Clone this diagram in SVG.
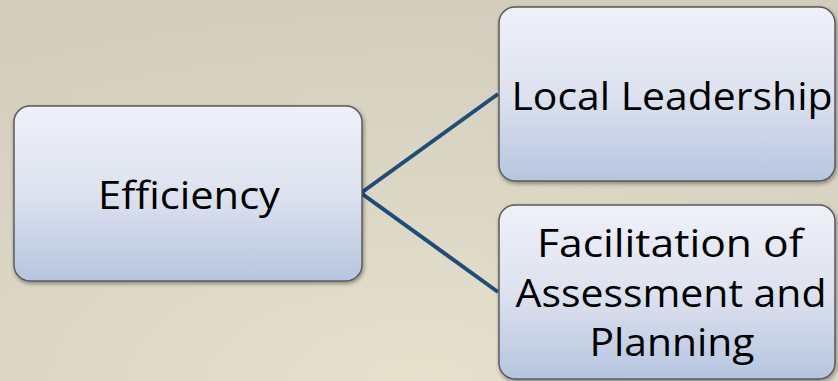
<svg xmlns="http://www.w3.org/2000/svg" width="838" height="381" viewBox="0 0 838 381">
<defs>
<radialGradient id="bg" cx="0.5" cy="1" r="1">
<stop offset="0" stop-color="#e6e1cd"/>
<stop offset="1" stop-color="#d2cdbd"/>
</radialGradient>
<linearGradient id="box" x1="0" y1="0" x2="0" y2="1">
<stop offset="0" stop-color="#eff1f9"/>
<stop offset="0.5" stop-color="#dde2ef"/>
<stop offset="1" stop-color="#b6c5e0"/>
</linearGradient>
<filter id="sh" x="-10%" y="-10%" width="120%" height="130%">
<feGaussianBlur in="SourceAlpha" stdDeviation="2"/>
<feOffset dx="1" dy="2" result="b"/>
<feComponentTransfer><feFuncA type="linear" slope="0.4"/></feComponentTransfer>
<feMerge><feMergeNode/><feMergeNode in="SourceGraphic"/></feMerge>
</filter>
</defs>
<style>
.node rect{fill:url(#box);stroke:#5a5a5a;stroke-width:1.5;filter:url(#sh)}
.node text{font-family:"Open Sans","Noto Sans","Liberation Sans",sans-serif;font-size:39px;fill:#000;text-anchor:middle}
.conn{stroke:#1f4d78;stroke-width:4;fill:none;stroke-linejoin:miter}
</style>
<rect width="838" height="381" fill="url(#bg)"/>
<g id="connectors">
<polyline class="conn" points="498,94 361,193 498,292"/>
</g>
<g id="efficiency" class="node">
<rect x="14" y="106" width="348" height="175" rx="16"/>
<text x="189" y="209" textLength="182" lengthAdjust="spacingAndGlyphs">Efficiency</text>
</g>
<g id="local-leadership" class="node">
<rect x="499" y="7" width="336" height="174" rx="16"/>
<text x="672" y="110" textLength="321" lengthAdjust="spacingAndGlyphs">Local Leadership</text>
</g>
<g id="facilitation" class="node">
<rect x="499" y="205" width="336" height="174" rx="16"/>
<text x="670" y="257" textLength="266" lengthAdjust="spacingAndGlyphs">Facilitation of</text>
<text x="671" y="307" textLength="311" lengthAdjust="spacingAndGlyphs">Assessment and</text>
<text x="672" y="356" textLength="165" lengthAdjust="spacingAndGlyphs">Planning</text>
</g>
</svg>
